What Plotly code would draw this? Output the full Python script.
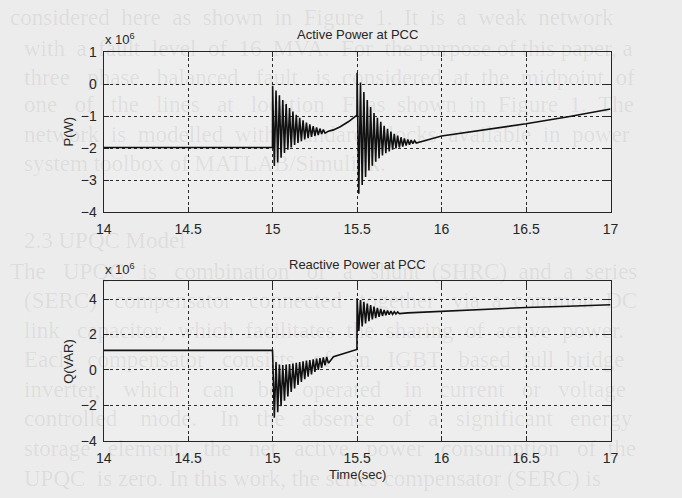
import numpy as np
import plotly.graph_objects as go

# ---------------- data (values in units of 1e6) ----------------
x_ticks = [14, 14.5, 15, 15.5, 16, 16.5, 17]
p_ticks = [1, 0, -1, -2, -3, -4]
q_ticks = [4, 2, 0, -2, -4]

# Active power at PCC
p_pre_t = [14.0, 14.999]
p_pre = [-1.98, -1.98]
p_b1_start = 15.0
p_b1_up = [-0.05, -0.2, -0.35, -0.5, -0.62, -0.75, -0.86, -0.96, -1.05, -1.13, -1.2, -1.26, -1.31, -1.35, -1.39, -1.42]
p_b1_lo = [-2.56, -2.45, -2.3, -2.15, -2.05, -1.98, -1.9, -1.84, -1.78, -1.73, -1.69, -1.65, -1.62, -1.59, -1.56, -1.53]
p_mid_t = [15.33, 15.36, 15.40, 15.45, 15.499]
p_mid = [-1.47, -1.43, -1.33, -1.17, -0.97]
p_b2_start = 15.5
p_b2_up = [0.35, 0.05, -0.25, -0.5, -0.72, -0.9, -1.05, -1.18, -1.3, -1.4, -1.48, -1.55, -1.61, -1.66, -1.7, -1.73, -1.75, -1.76]
p_b2_lo = [-3.42, -3.15, -2.9, -2.7, -2.55, -2.42, -2.32, -2.23, -2.16, -2.1, -2.05, -2.01, -1.98, -1.95, -1.92, -1.89, -1.86, -1.84]
p_post_t = [15.88, 15.92, 16.0, 16.25, 16.5, 16.75, 17.0]
p_post = [-1.79, -1.74, -1.62, -1.44, -1.24, -1.02, -0.78]

# Reactive power at PCC
q_pre_t = [14.0, 14.999]
q_pre = [1.1, 1.1]
q_b1_start = 15.0
q_b1_up = [0.9, 0.45, 0.3, 0.28, 0.3, 0.33, 0.36, 0.4, 0.44, 0.48, 0.52, 0.56, 0.6, 0.64, 0.67, 0.7, 0.73]
q_b1_lo = [-2.7, -2.4, -2.05, -1.75, -1.5, -1.25, -1.05, -0.85, -0.68, -0.52, -0.38, -0.25, -0.12, 0.0, 0.12, 0.25, 0.38]
q_mid_t = [15.36, 15.40, 15.45, 15.499]
q_mid = [0.74, 0.86, 1.0, 1.15]
q_b2_start = 15.5
q_b2_up = [4.05, 3.95, 3.85, 3.75, 3.66, 3.58, 3.5, 3.44, 3.39, 3.35, 3.32, 3.29, 3.27]
q_b2_lo = [2.2, 2.45, 2.62, 2.75, 2.85, 2.93, 3.0, 3.05, 3.09, 3.12, 3.14, 3.16, 3.18]
q_post_t = [15.8, 15.9, 16.0, 16.25, 16.5, 16.75, 17.0]
q_post = [3.22, 3.27, 3.32, 3.43, 3.53, 3.6, 3.68]

SAMPLE = 0.01  # time between successive recorded extrema (s)

# faint text of the scanned page behind the figure
paper_lines = [
    "considered here as shown in Figure 1. It is a weak network",
    "with a fault level of 16 MVA. For the purpose of this paper, a",
    "three phase balanced fault is considered at the midpoint of",
    "one of the lines at location F as shown in Figure 1. The",
    "network is modelled with standard blocks available in power",
    "system toolbox of MATLAB/Simulink.",
    "2.3 UPQC Model",
    "The UPQC is combination of a shunt (SHRC) and a series",
    "(SERC) compensator connected together via a common DC",
    "link capacitor, which facilitates the sharing of active power.",
    "Each compensator consists of an IGBT based full bridge",
    "inverter, which can be operated in current or voltage",
    "controlled mode. In the absence of a significant energy",
    "storage element, the net active power consumption of the",
    "UPQC is zero. In this work, the series compensator (SERC) is",
]
paper_line_y = [10, 42, 72, 100, 131, 161, 240, 272, 302, 333, 363, 394, 424, 455, 486]
paper_justified = [True, True, True, True, True, False, False, True, True, True, True, True, True, True, True]


def burst(start, up, lo):
    t, v = [], []
    for k in range(max(len(up), len(lo))):
        if k < len(up):
            t.append(start + 2 * k * SAMPLE)
            v.append(up[k])
        if k < len(lo):
            t.append(start + (2 * k + 1) * SAMPLE)
            v.append(lo[k])
    return t, v


def assemble(pre_t, pre, b1, mid_t, mid, b2, post_t, post):
    t = list(pre_t) + b1[0] + list(mid_t) + b2[0] + list(post_t)
    v = list(pre) + b1[1] + list(mid) + b2[1] + list(post)
    return t, v


p_t, p_v = assemble(p_pre_t, p_pre, burst(p_b1_start, p_b1_up, p_b1_lo), p_mid_t, p_mid,
                    burst(p_b2_start, p_b2_up, p_b2_lo), p_post_t, p_post)
q_t, q_v = assemble(q_pre_t, q_pre, burst(q_b1_start, q_b1_up, q_b1_lo), q_mid_t, q_mid,
                    burst(q_b2_start, q_b2_up, q_b2_lo), q_post_t, q_post)

W, H = 682, 498
def px(x):
    return x / W
def py(y):
    return 1 - y / H

SERIF_SIZE = 23


def est_width(s):
    w = 0.0
    for ch in s:
        if ch == " ":
            w += 0.25
        elif ch.isupper():
            w += 0.68
        elif ch.isdigit():
            w += 0.5
        elif ch in ".,:;()/":
            w += 0.3
        elif ch in "ilftj":
            w += 0.29
        elif ch in "mw":
            w += 0.74
        else:
            w += 0.48
    return 1.06 * w * SERIF_SIZE


def justify(s, target):
    words = s.split(" ")
    gaps = len(words) - 1
    if gaps <= 0:
        return s
    extra = max(0, int((target - est_width(s)) / (0.25 * SERIF_SIZE)))
    out = words[0]
    for i, wd in enumerate(words[1:]):
        n = 1 + extra // gaps + (1 if i < extra % gaps else 0)
        out += "\u00a0" * n + wd
    return out


FONT = "Liberation Sans, Arial, sans-serif"
INK = "#262626"

fig = go.Figure()
fig.add_trace(go.Scatter(x=p_t, y=p_v, mode="lines", line=dict(color="#111111", width=1.6),
                         xaxis="x", yaxis="y", showlegend=False, hoverinfo="skip"))
fig.add_trace(go.Scatter(x=q_t, y=q_v, mode="lines", line=dict(color="#111111", width=1.6),
                         xaxis="x2", yaxis="y2", showlegend=False, hoverinfo="skip"))

axis_common = dict(
    showline=True, linecolor=INK, linewidth=1.2, mirror="allticks",
    ticks="inside", ticklen=5, tickcolor=INK, tickwidth=1,
    showgrid=True, gridcolor="#2a2a2a", gridwidth=1, griddash="3px,3px",
    zeroline=False, tickfont=dict(family=FONT, size=14, color=INK),
)
x_dom = [px(98), px(617)]

fig.update_layout(
    width=W, height=H, margin=dict(l=0, r=0, t=0, b=0),
    paper_bgcolor="#ececec", plot_bgcolor="#eeeeee",
    xaxis=dict(domain=x_dom, range=[14, 17], tickvals=x_ticks, anchor="y",
               ticklabelstandoff=4, **axis_common),
    yaxis=dict(domain=[py(211), py(45.5)], range=[-4, 1], tickvals=p_ticks, anchor="x",
               ticklabelstandoff=3, **axis_common),
    xaxis2=dict(domain=x_dom, range=[14, 17], tickvals=x_ticks, anchor="y2",
                ticklabelstandoff=4, **axis_common),
    yaxis2=dict(domain=[py(447), py(282.5)], range=[-4, 5], tickvals=q_ticks, anchor="x2",
                ticklabelstandoff=3, **axis_common),
)

ann = []
for i, (txt, yy, just) in enumerate(zip(paper_lines, paper_line_y, paper_justified)):
    x0 = 0 if i in (0, 7) else 14
    shown = justify(txt, W - 4 - x0) if just else txt
    ann.append(dict(text=shown, x=px(x0), y=py(yy), xref="paper", yref="paper",
                    xanchor="left", yanchor="middle", showarrow=False,
                    font=dict(family="Liberation Serif, Times New Roman, serif", size=SERIF_SIZE,
                              color="rgba(0,0,0,0.075)")))

label_font = dict(family=FONT, size=13, color=INK)
ann += [
    dict(text="Active Power at PCC", x=px(357.5), y=py(27), xanchor="center", yanchor="middle"),
    dict(text="Reactive Power at PCC", x=px(357.5), y=py(265), xanchor="center", yanchor="middle"),
    dict(text="x 10<sup>6</sup>", x=px(97), y=py(32), xanchor="left", yanchor="middle"),
    dict(text="x 10<sup>6</sup>", x=px(97), y=py(270), xanchor="left", yanchor="middle"),
    dict(text="P(W)", x=px(62), y=py(128), xanchor="center", yanchor="middle", textangle=-90),
    dict(text="Q(VAR)", x=px(62), y=py(365), xanchor="center", yanchor="middle", textangle=-90),
    dict(text="Time(sec)", x=px(357.5), y=py(482), xanchor="center", yanchor="middle"),
]
for a in ann[len(paper_lines):]:
    a.update(xref="paper", yref="paper", showarrow=False, font=label_font)
fig.update_layout(annotations=ann)

fig.write_html("out.html")
